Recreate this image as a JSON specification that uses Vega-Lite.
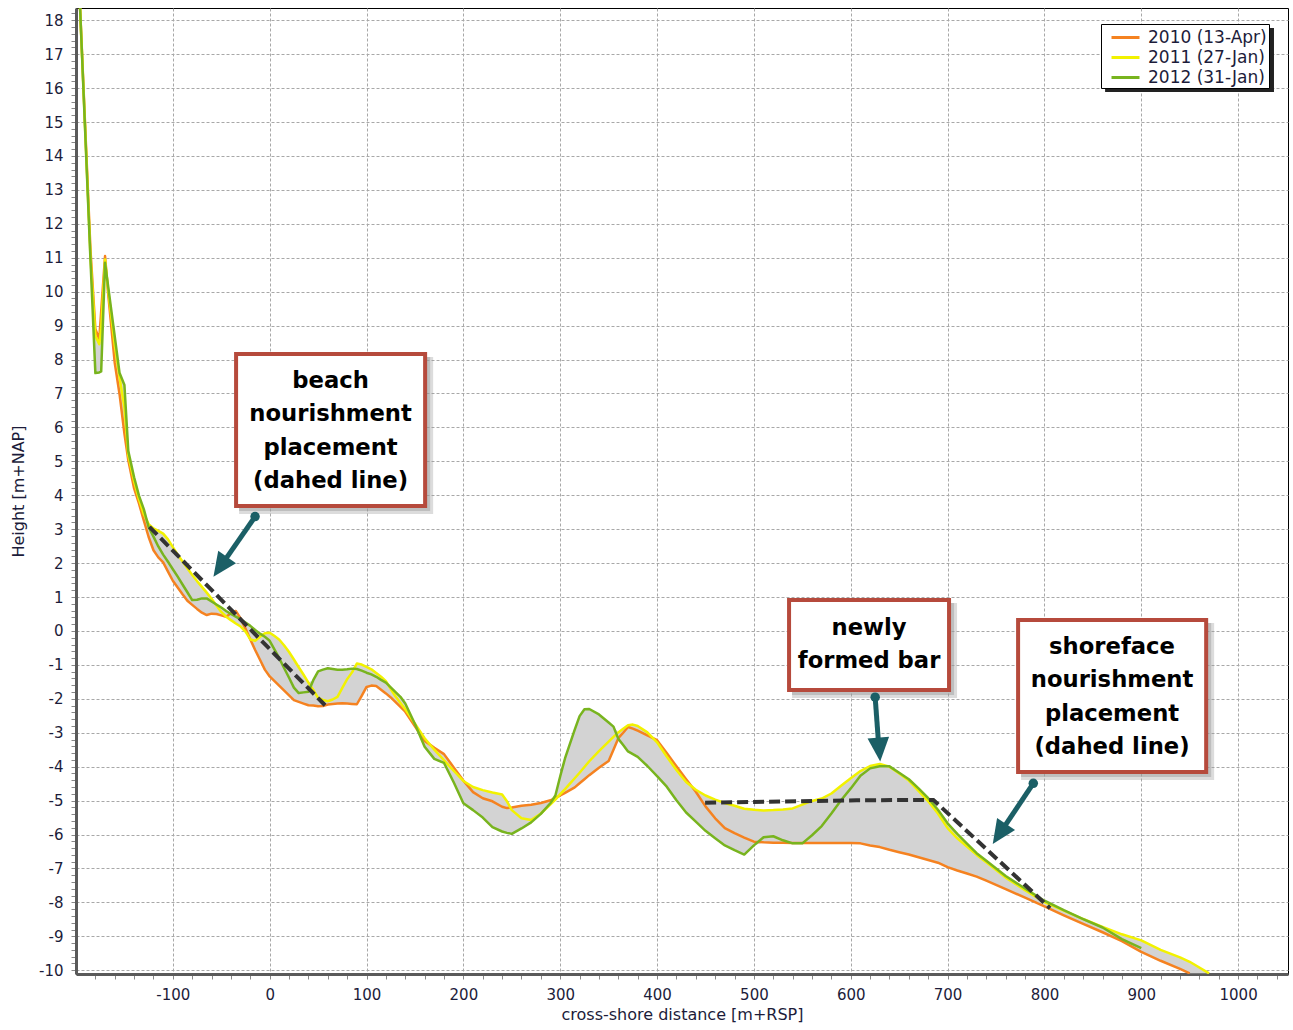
{
  "$schema": "https://vega.github.io/schema/vega-lite/v6.json",
  "width": 1212,
  "height": 966,
  "autosize": {"type": "none"},
  "padding": {"left": 76, "top": 8, "right": 5, "bottom": 56},
  "background": "white",
  "config": {
    "font": "DejaVu Sans",
    "view": {"stroke": "black", "strokeWidth": 1},
    "axis": {
      "domainColor": "#5a5a5a",
      "domainWidth": 3,
      "tickColor": "#888888",
      "tickSize": 5,
      "tickWidth": 1,
      "tickCount": 1000,
      "labelFontSize": 15,
      "labelColor": "#1c1c3a",
      "labelPadding": 8,
      "titleFontSize": 16,
      "titleFontWeight": "normal",
      "titleColor": "#1c1c3a",
      "gridColor": "#a8a8a8",
      "gridDash": [3, 2],
      "gridWidth": 1,
      "labelOverlap": false,
      "labelFlush": false,
      "labelBound": false
    }
  },
  "datasets": {
    "profiles": [
      {"x": -196, "y2010": 18.5, "y2011": 18.5, "y2012": 18.5},
      {"x": -185, "y2010": 11.2, "y2011": 11.0, "y2012": 10.9},
      {"x": -180, "y2010": 8.9, "y2011": 8.7, "y2012": 7.6},
      {"x": -176, "y2010": 8.6, "y2011": 8.45, "y2012": 7.62},
      {"x": -174, "y2010": 9.42, "y2011": 8.91, "y2012": 7.65},
      {"x": -170, "y2010": 11.05, "y2011": 10.95, "y2012": 10.85},
      {"x": -167, "y2010": 10.0, "y2011": 10.1, "y2012": 10.2},
      {"x": -160, "y2010": 7.9, "y2011": 8.42, "y2012": 8.68},
      {"x": -155, "y2010": 6.97, "y2011": 7.47, "y2012": 7.6},
      {"x": -150, "y2010": 5.82, "y2011": 6.58, "y2012": 7.25},
      {"x": -146, "y2010": 5.03, "y2011": 5.17, "y2012": 5.3},
      {"x": -140, "y2010": 4.2, "y2011": 4.41, "y2012": 4.53},
      {"x": -135, "y2010": 3.76, "y2011": 3.88, "y2012": 3.99},
      {"x": -130, "y2010": 3.26, "y2011": 3.44, "y2012": 3.59},
      {"x": -125, "y2010": 2.77, "y2011": 3.15, "y2012": 3.06},
      {"x": -120, "y2010": 2.38, "y2011": 3.02, "y2012": 2.78},
      {"x": -115, "y2010": 2.17, "y2011": 2.95, "y2012": 2.49},
      {"x": -110, "y2010": 2.02, "y2011": 2.87, "y2012": 2.25},
      {"x": -105, "y2010": 1.75, "y2011": 2.7, "y2012": 2.04},
      {"x": -100, "y2010": 1.48, "y2011": 2.47, "y2012": 1.82},
      {"x": -95, "y2010": 1.28, "y2011": 2.25, "y2012": 1.6},
      {"x": -90, "y2010": 1.08, "y2011": 2.05, "y2012": 1.37},
      {"x": -85, "y2010": 0.89, "y2011": 1.85, "y2012": 1.14},
      {"x": -80, "y2010": 0.77, "y2011": 1.65, "y2012": 0.91},
      {"x": -75, "y2010": 0.65, "y2011": 1.47, "y2012": 0.92},
      {"x": -70, "y2010": 0.54, "y2011": 1.3, "y2012": 0.96},
      {"x": -65, "y2010": 0.47, "y2011": 1.13, "y2012": 0.96},
      {"x": -60, "y2010": 0.51, "y2011": 0.95, "y2012": 0.87},
      {"x": -55, "y2010": 0.5, "y2011": 0.75, "y2012": 0.78},
      {"x": -50, "y2010": 0.46, "y2011": 0.56, "y2012": 0.69},
      {"x": -45, "y2010": 0.42, "y2011": 0.42, "y2012": 0.59},
      {"x": -40, "y2010": 0.52, "y2011": 0.32, "y2012": 0.5},
      {"x": -35, "y2010": 0.59, "y2011": 0.22, "y2012": 0.42},
      {"x": -30, "y2010": 0.37, "y2011": 0.13, "y2012": 0.34},
      {"x": -25, "y2010": 0.07, "y2011": -0.02, "y2012": 0.25},
      {"x": -20, "y2010": -0.25, "y2011": -0.25, "y2012": 0.15},
      {"x": -15, "y2010": -0.56, "y2011": -0.29, "y2012": 0.03},
      {"x": -10, "y2010": -0.85, "y2011": -0.17, "y2012": -0.08},
      {"x": -5, "y2010": -1.14, "y2011": -0.07, "y2012": -0.17},
      {"x": 0, "y2010": -1.34, "y2011": -0.05, "y2012": -0.29},
      {"x": 5, "y2010": -1.48, "y2011": -0.15, "y2012": -0.55},
      {"x": 10, "y2010": -1.62, "y2011": -0.26, "y2012": -0.81},
      {"x": 15, "y2010": -1.76, "y2011": -0.43, "y2012": -1.1},
      {"x": 20, "y2010": -1.9, "y2011": -0.62, "y2012": -1.38},
      {"x": 25, "y2010": -2.04, "y2011": -0.84, "y2012": -1.67},
      {"x": 30, "y2010": -2.09, "y2011": -1.07, "y2012": -1.83},
      {"x": 35, "y2010": -2.14, "y2011": -1.29, "y2012": -1.81},
      {"x": 40, "y2010": -2.19, "y2011": -1.52, "y2012": -1.79},
      {"x": 45, "y2010": -2.2, "y2011": -1.74, "y2012": -1.45},
      {"x": 50, "y2010": -2.22, "y2011": -1.97, "y2012": -1.19},
      {"x": 55, "y2010": -2.21, "y2011": -2.03, "y2012": -1.14},
      {"x": 60, "y2010": -2.17, "y2011": -2.07, "y2012": -1.1},
      {"x": 65, "y2010": -2.15, "y2011": -2.02, "y2012": -1.12},
      {"x": 70, "y2010": -2.14, "y2011": -1.94, "y2012": -1.14},
      {"x": 75, "y2010": -2.13, "y2011": -1.68, "y2012": -1.14},
      {"x": 80, "y2010": -2.14, "y2011": -1.42, "y2012": -1.13},
      {"x": 85, "y2010": -2.15, "y2011": -1.22, "y2012": -1.11},
      {"x": 90, "y2010": -2.16, "y2011": -0.96, "y2012": -1.12},
      {"x": 95, "y2010": -1.91, "y2011": -0.99, "y2012": -1.17},
      {"x": 100, "y2010": -1.65, "y2011": -1.06, "y2012": -1.23},
      {"x": 105, "y2010": -1.61, "y2011": -1.13, "y2012": -1.28},
      {"x": 110, "y2010": -1.62, "y2011": -1.24, "y2012": -1.35},
      {"x": 115, "y2010": -1.73, "y2011": -1.35, "y2012": -1.44},
      {"x": 120, "y2010": -1.84, "y2011": -1.48, "y2012": -1.52},
      {"x": 125, "y2010": -1.96, "y2011": -1.71, "y2012": -1.66},
      {"x": 130, "y2010": -2.1, "y2011": -1.93, "y2012": -1.8},
      {"x": 135, "y2010": -2.24, "y2011": -2.12, "y2012": -1.94},
      {"x": 140, "y2010": -2.38, "y2011": -2.31, "y2012": -2.14},
      {"x": 150, "y2010": -2.81, "y2011": -2.73, "y2012": -2.74},
      {"x": 160, "y2010": -3.24, "y2011": -3.16, "y2012": -3.41},
      {"x": 170, "y2010": -3.44, "y2011": -3.5, "y2012": -3.77},
      {"x": 180, "y2010": -3.63, "y2011": -3.81, "y2012": -3.89},
      {"x": 190, "y2010": -4.02, "y2011": -4.12, "y2012": -4.46},
      {"x": 200, "y2010": -4.41, "y2011": -4.42, "y2012": -5.08},
      {"x": 210, "y2010": -4.75, "y2011": -4.6, "y2012": -5.28},
      {"x": 220, "y2010": -4.93, "y2011": -4.69, "y2012": -5.5},
      {"x": 230, "y2010": -5.02, "y2011": -4.76, "y2012": -5.78},
      {"x": 240, "y2010": -5.18, "y2011": -4.82, "y2012": -5.91},
      {"x": 245, "y2010": -5.22, "y2011": -5.02, "y2012": -5.95},
      {"x": 250, "y2010": -5.2, "y2011": -5.28, "y2012": -5.98},
      {"x": 260, "y2010": -5.15, "y2011": -5.52, "y2012": -5.82},
      {"x": 270, "y2010": -5.12, "y2011": -5.57, "y2012": -5.64},
      {"x": 280, "y2010": -5.07, "y2011": -5.38, "y2012": -5.39},
      {"x": 290, "y2010": -4.99, "y2011": -5.11, "y2012": -5.07},
      {"x": 295, "y2010": -4.92, "y2011": -4.97, "y2012": -4.85},
      {"x": 300, "y2010": -4.85, "y2011": -4.81, "y2012": -4.28},
      {"x": 305, "y2010": -4.77, "y2011": -4.66, "y2012": -3.75},
      {"x": 310, "y2010": -4.69, "y2011": -4.5, "y2012": -3.33},
      {"x": 315, "y2010": -4.61, "y2011": -4.34, "y2012": -2.91},
      {"x": 320, "y2010": -4.49, "y2011": -4.18, "y2012": -2.51},
      {"x": 325, "y2010": -4.37, "y2011": -4.01, "y2012": -2.31},
      {"x": 330, "y2010": -4.25, "y2011": -3.84, "y2012": -2.3},
      {"x": 340, "y2010": -4.03, "y2011": -3.54, "y2012": -2.46},
      {"x": 350, "y2010": -3.83, "y2011": -3.26, "y2012": -2.7},
      {"x": 355, "y2010": -3.5, "y2011": -3.12, "y2012": -2.82},
      {"x": 360, "y2010": -3.16, "y2011": -2.99, "y2012": -3.18},
      {"x": 365, "y2010": -3.0, "y2011": -2.88, "y2012": -3.36},
      {"x": 370, "y2010": -2.83, "y2011": -2.78, "y2012": -3.55},
      {"x": 375, "y2010": -2.88, "y2011": -2.76, "y2012": -3.63},
      {"x": 380, "y2010": -2.94, "y2011": -2.8, "y2012": -3.71},
      {"x": 390, "y2010": -3.08, "y2011": -2.99, "y2012": -3.98},
      {"x": 400, "y2010": -3.22, "y2011": -3.28, "y2012": -4.28},
      {"x": 410, "y2010": -3.6, "y2011": -3.7, "y2012": -4.59},
      {"x": 420, "y2010": -3.99, "y2011": -4.1, "y2012": -4.99},
      {"x": 430, "y2010": -4.37, "y2011": -4.45, "y2012": -5.35},
      {"x": 440, "y2010": -4.74, "y2011": -4.68, "y2012": -5.62},
      {"x": 450, "y2010": -5.17, "y2011": -4.85, "y2012": -5.89},
      {"x": 460, "y2010": -5.52, "y2011": -4.97, "y2012": -6.11},
      {"x": 470, "y2010": -5.81, "y2011": -5.07, "y2012": -6.32},
      {"x": 480, "y2010": -5.96, "y2011": -5.15, "y2012": -6.46},
      {"x": 490, "y2010": -6.09, "y2011": -5.24, "y2012": -6.59},
      {"x": 500, "y2010": -6.21, "y2011": -5.27, "y2012": -6.32},
      {"x": 510, "y2010": -6.23, "y2011": -5.29, "y2012": -6.08},
      {"x": 520, "y2010": -6.24, "y2011": -5.28, "y2012": -6.05},
      {"x": 530, "y2010": -6.24, "y2011": -5.26, "y2012": -6.17},
      {"x": 540, "y2010": -6.25, "y2011": -5.23, "y2012": -6.26},
      {"x": 550, "y2010": -6.25, "y2011": -5.12, "y2012": -6.26},
      {"x": 560, "y2010": -6.25, "y2011": -5.01, "y2012": -6.02},
      {"x": 570, "y2010": -6.25, "y2011": -4.94, "y2012": -5.75},
      {"x": 580, "y2010": -6.25, "y2011": -4.79, "y2012": -5.38},
      {"x": 590, "y2010": -6.25, "y2011": -4.56, "y2012": -4.99},
      {"x": 600, "y2010": -6.25, "y2011": -4.34, "y2012": -4.64},
      {"x": 610, "y2010": -6.26, "y2011": -4.13, "y2012": -4.27},
      {"x": 620, "y2010": -6.32, "y2011": -3.98, "y2012": -4.05},
      {"x": 630, "y2010": -6.37, "y2011": -3.92, "y2012": -3.99},
      {"x": 640, "y2010": -6.45, "y2011": -4.0, "y2012": -3.99},
      {"x": 650, "y2010": -6.52, "y2011": -4.2, "y2012": -4.18},
      {"x": 660, "y2010": -6.59, "y2011": -4.41, "y2012": -4.37},
      {"x": 670, "y2010": -6.67, "y2011": -4.71, "y2012": -4.64},
      {"x": 680, "y2010": -6.75, "y2011": -5.02, "y2012": -4.93},
      {"x": 690, "y2010": -6.83, "y2011": -5.38, "y2012": -5.27},
      {"x": 700, "y2010": -6.96, "y2011": -5.81, "y2012": -5.67},
      {"x": 710, "y2010": -7.06, "y2011": -6.11, "y2012": -5.98},
      {"x": 720, "y2010": -7.15, "y2011": -6.35, "y2012": -6.27},
      {"x": 730, "y2010": -7.24, "y2011": -6.6, "y2012": -6.55},
      {"x": 740, "y2010": -7.36, "y2011": -6.82, "y2012": -6.77},
      {"x": 760, "y2010": -7.61, "y2011": -7.27, "y2012": -7.22},
      {"x": 780, "y2010": -7.86, "y2011": -7.64, "y2012": -7.59},
      {"x": 800, "y2010": -8.12, "y2011": -7.99, "y2012": -7.95},
      {"x": 820, "y2010": -8.38, "y2011": -8.24, "y2012": -8.23},
      {"x": 840, "y2010": -8.63, "y2011": -8.49, "y2012": -8.49},
      {"x": 860, "y2010": -8.88, "y2011": -8.72, "y2012": -8.74},
      {"x": 880, "y2010": -9.14, "y2011": -8.94, "y2012": -9.08},
      {"x": 900, "y2010": -9.46, "y2011": -9.12, "y2012": -9.35},
      {"x": 920, "y2010": -9.72, "y2011": -9.4, "y2012": null},
      {"x": 940, "y2010": -9.96, "y2011": -9.62, "y2012": null},
      {"x": 950, "y2010": -10.09, "y2011": -9.75, "y2012": null},
      {"x": 970, "y2010": null, "y2011": -10.09, "y2012": null}
    ],
    "dashed": [
      {"seg": "beach", "x": -124.2, "y": 3.07},
      {"seg": "beach", "x": 57.2, "y": -2.19},
      {"seg": "shoreface", "x": 449.6, "y": -5.06},
      {"seg": "shoreface", "x": 606, "y": -4.99},
      {"seg": "shoreface", "x": 685.3, "y": -4.98},
      {"seg": "shoreface", "x": 805.8, "y": -8.17}
    ],
    "boxes": [
      {"x": -34.7, "x2": 160.5, "y": 8.16, "y2": 3.68},
      {"x": 536.3, "x2": 701.5, "y": 0.91, "y2": -1.74},
      {"x": 772.8, "x2": 967, "y": 0.32, "y2": -4.16}
    ],
    "labels": [
      {"x": 62.9, "y": 7.37, "text": "beach"},
      {"x": 62.9, "y": 6.4, "text": "nourishment"},
      {"x": 62.9, "y": 5.39, "text": "placement"},
      {"x": 62.9, "y": 4.42, "text": "(dahed line)"},
      {"x": 618.9, "y": 0.09, "text": "newly"},
      {"x": 618.9, "y": -0.88, "text": "formed bar"},
      {"x": 869.8, "y": -0.47, "text": "shoreface"},
      {"x": 869.8, "y": -1.44, "text": "nourishment"},
      {"x": 869.8, "y": -2.45, "text": "placement"},
      {"x": 869.8, "y": -3.42, "text": "(dahed line)"}
    ],
    "arrows": [
      {"tx": -15.1, "ty": 3.37, "bx": -46.4, "by": 2.08, "hx": -58.1, "hy": 1.6, "heading": 214.8},
      {"tx": 625.2, "ty": -1.95, "bx": 628.6, "by": -3.27, "hx": 630.4, "hy": -3.85, "heading": 175.5},
      {"tx": 788.5, "ty": -4.49, "bx": 758.1, "by": -5.79, "hx": 746.6, "hy": -6.28, "heading": 213.8}
    ],
    "legendbox": [
      {"x": 858.5, "x2": 1032.9, "y": 17.89, "y2": 16.0}
    ]
  },
  "layer": [
    {
      "data": {"name": "profiles"},
      "transform": [
        {"fold": ["y2010", "y2011", "y2012"], "as": ["series", "h"]},
        {"filter": "isValid(datum.h)"},
        {"aggregate": [{"op": "min", "field": "h", "as": "lo"}, {"op": "max", "field": "h", "as": "hi"}], "groupby": ["x"]}
      ],
      "mark": {"type": "area", "color": "#d3d3d3", "clip": true},
      "encoding": {
        "x": {
          "field": "x", "type": "quantitative",
          "scale": {"domain": [-200, 1051.5], "nice": false, "zero": false},
          "axis": {
            "title": "cross-shore distance [m+RSP]",
            "titlePadding": 4,
            "tickCount": 1000,
            "values": [-180,-160,-140,-120,-100,-80,-60,-40,-20,0,20,40,60,80,100,120,140,160,180,200,220,240,260,280,300,320,340,360,380,400,420,440,460,480,500,520,540,560,580,600,620,640,660,680,700,720,740,760,780,800,820,840,860,880,900,920,940,960,980,1000,1020,1040],
            "labelExpr": "datum.value % 100 === 0 ? '' + datum.value : ''",
            "gridOpacity": {"condition": {"test": "datum.value % 100 === 0", "value": 1}, "value": 0}
          }
        },
        "y": {
          "field": "lo", "type": "quantitative",
          "scale": {"domain": [-10.11, 18.36], "nice": false, "zero": false},
          "axis": {
            "title": "Height [m+NAP]",
            "titlePadding": 12,
            "tickCount": 1000,
            "values": [-10,-9.8,-9.6,-9.4,-9.2,-9,-8.8,-8.6,-8.4,-8.2,-8,-7.8,-7.6,-7.4,-7.2,-7,-6.8,-6.6,-6.4,-6.2,-6,-5.8,-5.6,-5.4,-5.2,-5,-4.8,-4.6,-4.4,-4.2,-4,-3.8,-3.6,-3.4,-3.2,-3,-2.8,-2.6,-2.4,-2.2,-2,-1.8,-1.6,-1.4,-1.2,-1,-0.8,-0.6,-0.4,-0.2,0,0.2,0.4,0.6,0.8,1,1.2,1.4,1.6,1.8,2,2.2,2.4,2.6,2.8,3,3.2,3.4,3.6,3.8,4,4.2,4.4,4.6,4.8,5,5.2,5.4,5.6,5.8,6,6.2,6.4,6.6,6.8,7,7.2,7.4,7.6,7.8,8,8.2,8.4,8.6,8.8,9,9.2,9.4,9.6,9.8,10,10.2,10.4,10.6,10.8,11,11.2,11.4,11.6,11.8,12,12.2,12.4,12.6,12.8,13,13.2,13.4,13.6,13.8,14,14.2,14.4,14.6,14.8,15,15.2,15.4,15.6,15.8,16,16.2,16.4,16.6,16.8,17,17.2,17.4,17.6,17.8,18,18.2],
            "labelExpr": "abs(datum.value - round(datum.value)) < 0.01 ? '' + round(datum.value) : ''",
            "gridOpacity": {"condition": {"test": "abs(datum.value - round(datum.value)) < 0.01", "value": 1}, "value": 0}
          }
        },
        "y2": {"field": "hi"}
      }
    },
    {
      "data": {"name": "profiles"},
      "transform": [
        {"fold": ["y2010", "y2011", "y2012"], "as": ["series", "h"]},
        {"filter": "isValid(datum.h)"}
      ],
      "mark": {"type": "line", "strokeWidth": 2.5, "clip": true, "strokeJoin": "round"},
      "encoding": {
        "x": {"field": "x", "type": "quantitative", "scale": {"domain": [-200, 1051.5], "nice": false, "zero": false}},
        "y": {"field": "h", "type": "quantitative", "scale": {"domain": [-10.11, 18.36], "nice": false, "zero": false}},
        "color": {
          "field": "series", "type": "nominal",
          "scale": {"domain": ["y2010", "y2011", "y2012"], "range": ["#f58220", "#f2f200", "#78b41e"]},
          "legend": {
            "orient": "none", "legendX": 1025, "legendY": 16,
            "title": null,
            "symbolType": "M-0.3,0L2.5,0", "symbolStrokeWidth": 3, "symbolSize": 400,
            "labelFontSize": 17, "labelColor": "#1c1c3a", "labelOffset": 22,
            "labelExpr": "datum.value == 'y2010' ? '2010 (13-Apr)' : datum.value == 'y2011' ? '2011 (27-Jan)' : '2012 (31-Jan)'",
            "strokeColor": "black", "fillColor": "white", "padding": 2, "rowPadding": 0
          }
        }
      }
    },
    {
      "data": {"name": "dashed"},
      "mark": {"type": "line", "color": "#333333", "strokeWidth": 4, "strokeDash": [11, 5], "strokeCap": "butt"},
      "encoding": {
        "x": {"field": "x", "type": "quantitative", "scale": {"domain": [-200, 1051.5], "nice": false, "zero": false}},
        "y": {"field": "y", "type": "quantitative", "scale": {"domain": [-10.11, 18.36], "nice": false, "zero": false}},
        "detail": {"field": "seg"}
      }
    },
    {
      "data": {"name": "boxes"},
      "mark": {"type": "rect", "fill": "#9a9a9a", "opacity": 0.35, "xOffset": 3, "x2Offset": 8, "yOffset": 3, "y2Offset": 8},
      "encoding": {
        "x": {"field": "x", "type": "quantitative", "scale": {"domain": [-200, 1051.5], "nice": false, "zero": false}},
        "x2": {"field": "x2"},
        "y": {"field": "y", "type": "quantitative", "scale": {"domain": [-10.11, 18.36], "nice": false, "zero": false}},
        "y2": {"field": "y2"}
      }
    },
    {
      "data": {"name": "boxes"},
      "mark": {"type": "rect", "fill": "#9a9a9a", "opacity": 0.45, "xOffset": 3, "x2Offset": 5, "yOffset": 3, "y2Offset": 5},
      "encoding": {
        "x": {"field": "x", "type": "quantitative", "scale": {"domain": [-200, 1051.5], "nice": false, "zero": false}},
        "x2": {"field": "x2"},
        "y": {"field": "y", "type": "quantitative", "scale": {"domain": [-10.11, 18.36], "nice": false, "zero": false}},
        "y2": {"field": "y2"}
      }
    },
    {
      "data": {"name": "boxes"},
      "mark": {"type": "rect", "fill": "white", "stroke": "#b64a3c", "strokeWidth": 4},
      "encoding": {
        "x": {"field": "x", "type": "quantitative", "scale": {"domain": [-200, 1051.5], "nice": false, "zero": false}},
        "x2": {"field": "x2"},
        "y": {"field": "y", "type": "quantitative", "scale": {"domain": [-10.11, 18.36], "nice": false, "zero": false}},
        "y2": {"field": "y2"}
      }
    },
    {
      "data": {"name": "labels"},
      "mark": {"type": "text", "font": "DejaVu Sans", "fontWeight": "bold", "fontSize": 22.7, "align": "center", "baseline": "middle", "color": "black"},
      "encoding": {
        "x": {"field": "x", "type": "quantitative", "scale": {"domain": [-200, 1051.5], "nice": false, "zero": false}},
        "y": {"field": "y", "type": "quantitative", "scale": {"domain": [-10.11, 18.36], "nice": false, "zero": false}},
        "text": {"field": "text"}
      }
    },
    {
      "data": {"name": "arrows"},
      "mark": {"type": "rule", "color": "#1b5f66", "strokeWidth": 5, "strokeCap": "butt"},
      "encoding": {
        "x": {"field": "tx", "type": "quantitative", "scale": {"domain": [-200, 1051.5], "nice": false, "zero": false}},
        "y": {"field": "ty", "type": "quantitative", "scale": {"domain": [-10.11, 18.36], "nice": false, "zero": false}},
        "x2": {"field": "bx"},
        "y2": {"field": "by"}
      }
    },
    {
      "data": {"name": "arrows"},
      "mark": {"type": "point", "shape": "M0,0L-0.45,1L0.45,1Z", "filled": true, "color": "#1b5f66", "opacity": 1, "size": 2304},
      "encoding": {
        "x": {"field": "hx", "type": "quantitative", "scale": {"domain": [-200, 1051.5], "nice": false, "zero": false}},
        "y": {"field": "hy", "type": "quantitative", "scale": {"domain": [-10.11, 18.36], "nice": false, "zero": false}},
        "angle": {"field": "heading", "type": "quantitative", "scale": null}
      }
    },
    {
      "data": {"name": "arrows"},
      "mark": {"type": "point", "shape": "circle", "filled": true, "color": "#1b5f66", "opacity": 1, "size": 90},
      "encoding": {
        "x": {"field": "tx", "type": "quantitative", "scale": {"domain": [-200, 1051.5], "nice": false, "zero": false}},
        "y": {"field": "ty", "type": "quantitative", "scale": {"domain": [-10.11, 18.36], "nice": false, "zero": false}}
      }
    },
    {
      "data": {"name": "legendbox"},
      "mark": {"type": "rect", "fill": "#222222", "xOffset": 4, "x2Offset": 4, "yOffset": 4, "y2Offset": 4},
      "encoding": {
        "x": {"field": "x", "type": "quantitative", "scale": {"domain": [-200, 1051.5], "nice": false, "zero": false}},
        "x2": {"field": "x2"},
        "y": {"field": "y", "type": "quantitative", "scale": {"domain": [-10.11, 18.36], "nice": false, "zero": false}},
        "y2": {"field": "y2"}
      }
    }
  ]
}
